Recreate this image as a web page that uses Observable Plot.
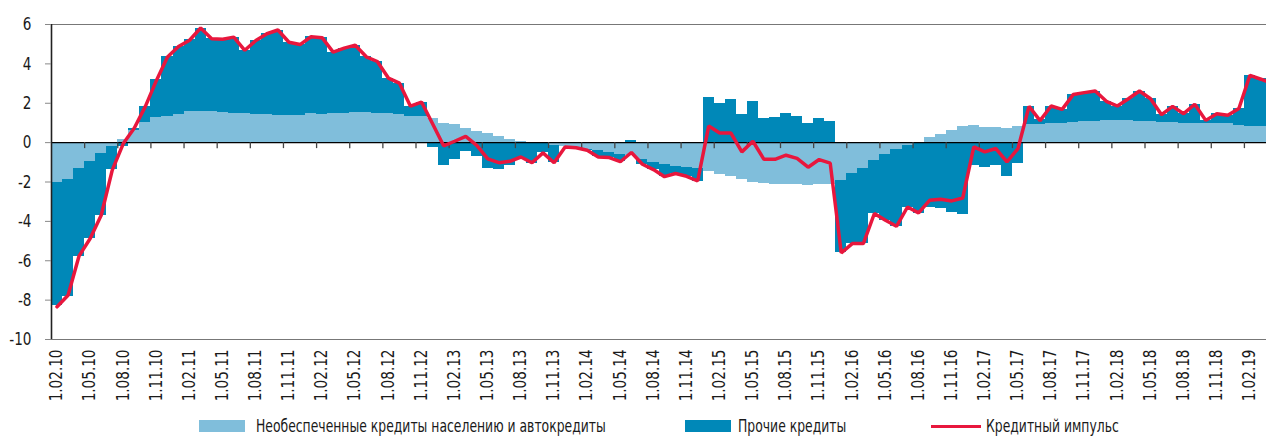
<!DOCTYPE html>
<html><head><meta charset="utf-8">
<script src="https://cdn.jsdelivr.net/npm/d3@7"></script>
<script src="https://cdn.jsdelivr.net/npm/@observablehq/plot@0.6"></script>
<style>
body{margin:0;background:#fff;font-family:"Liberation Sans Narrow","Arial Narrow","DejaVu Sans Condensed",sans-serif;color:#1a1a1a;}
#chart{width:1266px;height:415px;}
#legend{display:flex;justify-content:center;align-items:center;padding-left:51px;width:1215px;height:22px;font-size:17px;line-height:22px;}
.item{display:flex;align-items:center;}
.sw{width:46px;height:12px;margin-right:11px;flex:none;}
.ln{width:50px;height:3px;margin-right:5px;flex:none;}
.tx{display:inline-block;white-space:nowrap;transform:scaleX(0.81);transform-origin:0 50%;}
</style></head><body>
<div id="chart"></div>
<div id="legend"></div>
<script>
const seriesNames = ["Необеспеченные кредиты населению и автокредиты", "Прочие кредиты", "Кредитный импульс"];
const seriesColors = ["#80bedb", "#0088b8", "#e8173d"];

// monthly values, index 0 = 1.02.10
const unsecured = [
-2.05,-1.88,-1.32,-0.95,-0.56,-0.19,0.15,0.62,1.0,1.27,
1.34,1.44,1.56,1.56,1.56,1.54,1.5,1.47,1.44,1.42,
1.4,1.39,1.39,1.47,1.44,1.49,1.5,1.52,1.54,1.5,
1.47,1.42,1.35,1.35,1.22,0.96,0.91,0.74,0.54,0.46,
0.29,0.15,0.08,0.02,-0.05,-0.17,-0.22,-0.27,-0.33,-0.4,
-0.48,-0.6,-0.63,-0.85,-1.0,-1.1,-1.2,-1.25,-1.3,-1.49,
-1.6,-1.74,-1.88,-2.03,-2.1,-2.13,-2.15,-2.15,-2.17,-2.14,
-2.13,-1.91,-1.57,-1.29,-0.9,-0.59,-0.34,-0.14,0.02,0.25,
0.42,0.63,0.83,0.88,0.76,0.76,0.71,0.83,0.91,0.91,
0.96,0.97,1.02,1.05,1.05,1.1,1.13,1.12,1.08,1.05,
1.0,1.0,0.98,0.98,0.96,0.96,0.95,0.86,0.83,0.8,
0.8];
const otherLoans = [
-6.24,-5.95,-4.48,-3.92,-3.13,-1.18,-0.2,0.1,0.82,1.92,
3.01,3.45,3.67,4.26,3.72,3.72,3.86,3.22,3.75,4.11,
4.3,3.72,3.61,3.91,3.89,3.11,3.3,3.42,2.81,2.6,
1.78,1.58,0.51,0.71,-0.26,-1.18,-0.86,-0.47,-0.73,-1.32,
-1.35,-1.15,-0.81,-1.04,-0.47,-0.85,0.0,0.0,-0.06,-0.33,
-0.28,-0.35,0.12,-0.25,-0.37,-0.64,-0.37,-0.46,-0.66,2.27,
2.01,2.18,1.44,2.1,1.22,1.3,1.5,1.34,0.96,1.22,
1.08,-3.69,-3.56,-3.84,-2.7,-3.35,-3.91,-3.13,-3.6,-3.27,
-3.35,-3.57,-3.65,-1.15,-1.24,-1.15,-1.71,-1.07,0.93,0.24,
0.9,0.72,1.42,1.49,1.57,1.0,0.73,1.11,1.54,1.18,
0.42,0.84,0.49,0.97,0.17,0.51,0.44,0.87,2.59,2.45,
2.2];
const impulse = [
-8.34,-7.75,-5.75,-4.87,-3.69,-1.4,-0.05,0.74,1.84,3.16,
4.35,4.88,5.2,5.82,5.28,5.25,5.36,4.69,5.19,5.53,
5.72,5.1,4.98,5.38,5.33,4.6,4.8,4.95,4.36,4.12,
3.28,3.02,1.85,2.06,0.96,-0.16,0.07,0.32,-0.14,-0.83,
-1.02,-0.95,-0.73,-1.02,-0.52,-1.02,-0.22,-0.26,-0.39,-0.73,
-0.76,-0.97,-0.5,-1.1,-1.37,-1.73,-1.57,-1.71,-1.95,0.84,
0.49,0.49,-0.47,0.07,-0.85,-0.85,-0.64,-0.8,-1.25,-0.86,
-1.04,-5.6,-5.13,-5.13,-3.6,-3.94,-4.25,-3.27,-3.57,-2.93,
-2.88,-2.96,-2.81,-0.22,-0.47,-0.3,-0.98,-0.3,1.84,1.12,
1.86,1.69,2.44,2.54,2.62,2.1,1.86,2.23,2.62,2.23,
1.42,1.84,1.47,1.95,1.13,1.47,1.39,1.73,3.42,3.22,
3.0];

const tickLabels = [
"1.02.10","1.05.10","1.08.10","1.11.10",
"1.02.11","1.05.11","1.08.11","1.11.11",
"1.02.12","1.05.12","1.08.12","1.11.12",
"1.02.13","1.05.13","1.08.13","1.11.13",
"1.02.14","1.05.14","1.08.14","1.11.14",
"1.02.15","1.05.15","1.08.15","1.11.15",
"1.02.16","1.05.16","1.08.16","1.11.16",
"1.02.17","1.05.17","1.08.17","1.11.17",
"1.02.18","1.05.18","1.08.18","1.11.18",
"1.02.19"];
const yTicks = [-10,-8,-6,-4,-2,0,2,4,6];
const yDomain = [-10, 6];
const xDomain = [0, 110];

// derived tables
const tickPos = tickLabels.map((_, k) => k * 3);
const labelAt = new Map(tickPos.map((p, k) => [p, tickLabels[k]]));
const bars = [];
unsecured.forEach((v, i) => {
  bars.push({i, series: seriesNames[0], v});
  bars.push({i, series: seriesNames[1], v: otherLoans[i]});
});
const linePts = impulse.map((v, i) => ({i, v}));

const chart = Plot.plot({
  width: 1266,
  height: 415,
  marginLeft: 51,
  marginRight: 0,
  marginTop: 24,
  marginBottom: 76,
  style: {fontFamily: '"Liberation Sans Narrow","Arial Narrow","DejaVu Sans Condensed",sans-serif', fontSize: "17px", color: "#1a1a1a", background: "#fff"},
  x: {domain: xDomain, label: null},
  y: {domain: yDomain, label: null},
  color: {domain: seriesNames.slice(0, 2), range: seriesColors.slice(0, 2)},
  marks: [
    Plot.rectY(bars, {x1: "i", x2: d => d.i + 1, y: "v", fill: "series", clip: true, shapeRendering: "crispEdges"}),
    Plot.ruleY(yDomain, {stroke: "#777", strokeWidth: 1}),
    Plot.ruleY([0], {stroke: "#000", strokeWidth: 1.3}),
    Plot.ruleX(tickPos.slice(1), {y1: 0, y2: 0, insetBottom: -6, stroke: "#444", strokeWidth: 1.3}),
    Plot.line(linePts, {x: d => d.i + 0.5, y: "v", stroke: seriesColors[2], strokeWidth: 3.5, strokeLinejoin: "miter", clip: true}),
    Plot.ruleX([xDomain[0]], {stroke: "#222", strokeWidth: 1.6}),
    Plot.axisY({ticks: yTicks, tickSize: 6, tickPadding: 14, fontSize: 18, stroke: "#888", label: null, tickFormat: d => String(d)}),
    Plot.axisX({ticks: tickPos, tickFormat: d => labelAt.get(d), tickRotate: -90, tickSize: 0, tickPadding: 10, fontSize: 18, dx: 5, label: null})
  ]
});
document.getElementById("chart").appendChild(chart);

// condense tick label glyphs (narrow typeface look)
chart.querySelectorAll('g[aria-label="x-axis tick label"] text, g[aria-label="y-axis tick label"] text').forEach(t => {
  const tr = t.getAttribute("transform");
  if (tr && tr.includes("translate")) t.setAttribute("transform", tr + " scale(0.84,1)");
});

const legend = document.getElementById("legend");
seriesNames.forEach((name, k) => {
  const it = document.createElement("div");
  it.className = "item";
  it.style.marginRight = k === 0 ? "80px" : k === 1 ? "84px" : "0";
  const sw = document.createElement("span");
  sw.className = k < 2 ? "sw" : "ln";
  if (k === 1) sw.style.marginRight = "7px";
  sw.style.background = seriesColors[k];
  const tx = document.createElement("span");
  tx.className = "tx";
  tx.textContent = name;
  it.appendChild(sw); it.appendChild(tx);
  legend.appendChild(it);
  tx.style.marginRight = (-tx.offsetWidth * 0.19) + "px";
});
</script>
</body></html>
